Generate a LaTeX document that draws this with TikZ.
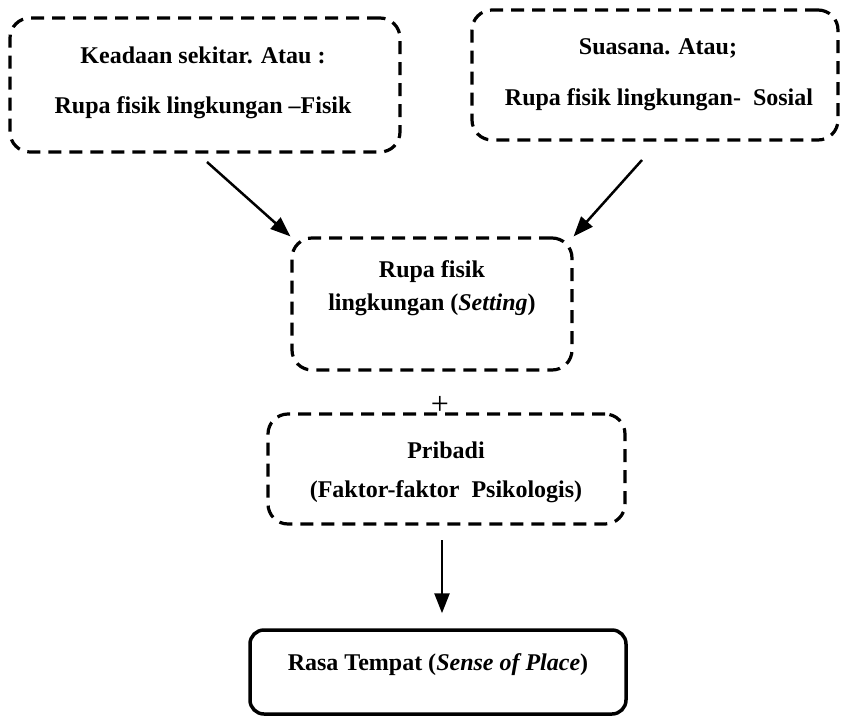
\documentclass[tikz,border=0pt]{standalone}
\usepackage{fontspec}
\setmainfont{Liberation Serif}
\usetikzlibrary{arrows.meta}
\begin{document}
\begin{tikzpicture}[x=1pt,y=-1pt,
  dbox/.style={draw, line width=3.2pt, dash pattern=on 13pt off 8pt, rounded corners=20pt, inner sep=0pt},
  sbox/.style={draw, line width=3.5pt, rounded corners=14pt, inner sep=0pt},
  lbl/.style={font=\fontsize{24}{28}\selectfont\bfseries, inner sep=0pt, anchor=center},
  arr/.style={line width=2.5pt, -{Triangle[length=20pt,width=15pt]}}]
\useasboundingbox (0,0) rectangle (841,718);
% boxes
\node[dbox, minimum width=390pt, minimum height=134pt] (b1) at (205,85) {};
\node[dbox, minimum width=366pt, minimum height=130pt] (b2) at (655,75) {};
\node[dbox, minimum width=280pt, minimum height=132pt] (bm) at (432,304) {};
\node[dbox, minimum width=357pt, minimum height=110pt] (bp) at (446.5,469) {};
\node[sbox, minimum width=376pt, minimum height=84pt] (br) at (438,672) {};
% texts
\node[lbl] (t1a) at (203,55) {Keadaan sekitar. Atau :};
\node[lbl] (t1b) at (203,108) {Rupa fisik lingkungan –Fisik};
\node[lbl] (t2a) at (658,48) {Suasana. Atau;};
\node[lbl] (t2b) at (659,100) {Rupa fisik lingkungan-\hspace{0.5em}Sosial};
\node[lbl] (tm1) at (432,272) {Rupa fisik};
\node[lbl] (tm2) at (432,305) {lingkungan (\textit{Setting})};
\node[lbl] (tp1) at (446,450) {Pribadi};
\node[lbl] (tp2) at (446,492) {(Faktor-faktor\hspace{0.5em}Psikologis)};
\node[lbl] (tr) at (438,665) {Rasa Tempat (\textit{Sense of Place})};
\node[font=\fontsize{32}{34}\selectfont, inner sep=0pt] (plus) at (440,405) {+};
% connectors
\coordinate (a1s) at (207,162);
\coordinate (a2s) at (642,160);
\coordinate (a3s) at (442,540);
\draw[arr] (a1s) -- (bm.north west);
\draw[arr] (a2s) -- (bm.north east);
\draw[arr, shorten >=15pt] (a3s) -- (a3s |- br.north);
\end{tikzpicture}
\end{document}
